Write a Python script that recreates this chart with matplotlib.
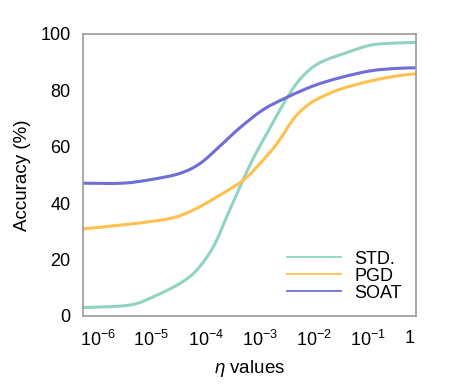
import numpy as np
from matplotlib import pyplot as plt
from matplotlib.path import Path
from matplotlib.patches import PathPatch

plt.rcParams['font.family'] = ['Liberation Sans', 'DejaVu Sans']
plt.rcParams['mathtext.fontset'] = 'custom'
plt.rcParams['mathtext.rm'] = 'Liberation Sans'
plt.rcParams['mathtext.it'] = 'Liberation Sans:italic'

# x positions are log10(eta)
std_x = [-6, -5.15, -4.67, -4.25, -3.95, -3.65, -3.41, -3.17, -2.93,
         -2.65, -2.39, -2.15, -1.91, -1.67, -1.25, -0.83, -0.47, 0]
std_y = [3.0, 3.9, 7.4, 11.6, 16.3, 24.6, 35.2, 45.9, 56.0,
         66.0, 75.2, 82.5, 87.5, 90.4, 93.4, 96.0, 96.7, 97.0]
pgd_x = [-6, -5.15, -4.43, -4.01, -3.53, -3.11, -2.81, -2.51, -2.21,
         -2.00, -1.79, -1.37, -0.83, -0.35, 0]
pgd_y = [30.9, 32.6, 34.6, 37.6, 42.9, 48.2, 54.1, 61.0, 69.8,
         74.0, 76.8, 80.4, 83.3, 85.1, 85.9]
soat_x = [-6, -5.28, -4.74, -4.25, -3.89, -3.53, -3.17, -2.75, -2.33,
          -1.85, -1.37, -0.83, -0.35, 0]
soat_y = [47.1, 47.1, 48.5, 50.6, 54.1, 60.3, 66.8, 73.2, 77.5,
          81.6, 84.5, 86.9, 87.8, 88.0]

tick_text = ['$10^{-6}$', '$10^{-5}$', '$10^{-4}$', '$10^{-3}$',
             '$10^{-2}$', '$10^{-1}$', '1']
# label centres sit a bit right of each decade
tick_at = [-5.73, -4.78, -3.78, -2.81, -1.84, -0.87, -0.11]


def smooth_path(x, y):
    # catmull-rom through the points, drawn as cubic beziers (like a "smoothed line")
    p = np.column_stack([x, y]).astype(float)
    verts = [p[0]]
    codes = [Path.MOVETO]
    n = len(p)
    for i in range(n - 1):
        p0 = p[max(i - 1, 0)]
        p1, p2 = p[i], p[i + 1]
        p3 = p[min(i + 2, n - 1)]
        verts += [p1 + (p2 - p0) / 6, p2 - (p3 - p1) / 6, p2]
        codes += [Path.CURVE4] * 3
    return Path(verts, codes)


fig = plt.figure(figsize=(4.57, 3.87), dpi=100)
ax = fig.add_axes([83/457, 1-316/387, 333/457, 282/387])

series = [(std_x, std_y, '#8fd4c2', 'STD.'),
          (pgd_x, pgd_y, '#fec04f', 'PGD'),
          (soat_x, soat_y, '#6e6ed6', 'SOAT')]
for xs, ys, c, name in series:
    ax.add_patch(PathPatch(smooth_path(xs, ys), fill=False, edgecolor=c,
                           lw=2.2, capstyle='round', joinstyle='round'))
    ax.plot([], [], color=c, lw=1.3, label=name)

ax.set_xlim(-6, 0)
ax.set_ylim(0, 100)
ax.set_yticks(range(0, 101, 20))
ax.set_xticks(tick_at)
ax.set_xticklabels(tick_text)
ax.tick_params(length=0, labelsize=13, pad=10)
ax.tick_params(axis='y', pad=9)
for s in ax.spines.values():
    s.set_color('#999999')
    s.set_linewidth(1.2)

ax.set_ylabel('Accuracy (%)', fontsize=13.5, labelpad=7)
ax.set_xlabel(r'$\mathit{\eta}$ values', fontsize=13.5, labelpad=6)

ax.legend(loc='lower right', frameon=False, fontsize=13, handlelength=3.0,
          handletextpad=0.7, labelspacing=0.0, borderaxespad=0.4)

fig.savefig('out.png', dpi=100)
